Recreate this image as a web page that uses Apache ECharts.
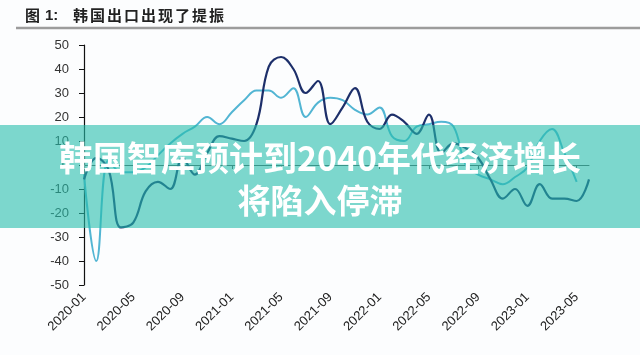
<!DOCTYPE html>
<html><head><meta charset="utf-8">
<script src="https://cdn.jsdelivr.net/npm/echarts@6/dist/echarts.min.js"></script>
<style>html,body{margin:0;padding:0;background:#fff}#c{width:640px;height:355px}</style>
</head><body><div id="c"></div>
<script>
const categories = [
 '2020-01','2020-02','2020-03','2020-04','2020-05','2020-06','2020-07','2020-08','2020-09','2020-10','2020-11','2020-12',
 '2021-01','2021-02','2021-03','2021-04','2021-05','2021-06','2021-07','2021-08','2021-09','2021-10','2021-11','2021-12',
 '2022-01','2022-02','2022-03','2022-04','2022-05','2022-06','2022-07','2022-08','2022-09','2022-10','2022-11','2022-12',
 '2023-01','2023-02','2023-03','2023-04','2023-05','2023-06'];
const seriesDark = [-6, 3, -2, -26, -24, -11, -7, -10, 3, -4, 5, 12,
 11, 10, 17, 41, 45, 40, 30, 35, 17, 24, 32, 18,
 15, 21, 18, 13, 21, 5, 9, 7, 3, -6, -14, -10,
 -17, -8, -14, -14, -15, -6];
const seriesLight = [-4, -40, 2, -3, -3, -1, 4, 9, 13, 16, 20, 17,
 22, 27, 31, 31, 28, 32, 20, 26, 28, 27, 23, 21,
 24, 12, 10, 16, 17, 18, 16, 0, -4, -6, -8, -5,
 -1, 10, 15, 5, -7, null];
const yTicks = {min: -50, max: 50, interval: 10};
const titleLead = ['图', '1:'];
const titleChars = ['韩','国','出','口','出','现','了','提','振'];
const bannerLines = ['韩国智库预计到2040年代经济增长', '将陷入停滞'];

const chart = echarts.init(document.getElementById('c'), null, {renderer: 'canvas'});
const graphics = [];
graphics.push({type:'text', left: 25, top: 8, z: 10, style:{text: titleLead[0], fontSize: 15, fontWeight: 'bold', fontFamily: 'Noto Sans CJK SC', fill: '#222'}});
graphics.push({type:'text', left: 45, top: 8, z: 10, style:{text: titleLead[1], fontSize: 15, fontWeight: 'bold', fontFamily: 'Liberation Sans', fill: '#222'}});
titleChars.forEach((ch, k) => {
  graphics.push({type:'text', left: 73 + 17 * k, top: 8, z: 10, style:{text: ch, fontSize: 15, fontWeight: 'bold', fontFamily: 'Noto Sans CJK SC', fill: '#222'}});
});
graphics.push({type:'line', z: 10, shape:{x1: 16, y1: 28, x2: 640, y2: 28}, style:{stroke:'#9c9c9c', lineWidth: 2.5}});
graphics.push({type:'rect', z: 100, shape:{x: 0, y: 125, width: 640, height: 103}, style:{fill:'rgba(38,190,172,0.6)'}});
graphics.push({type:'text', z: 101, x: 320, y: 158, style:{text: bannerLines[0], align:'center', verticalAlign:'middle', fontSize: 34, fontWeight: 'bold', fontFamily: 'Noto Sans CJK SC', fill:'#fff', shadowColor:'rgba(0,0,0,0.25)', shadowBlur: 2}});
graphics.push({type:'text', z: 101, x: 320, y: 200, style:{text: bannerLines[1], align:'center', verticalAlign:'middle', fontSize: 33, fontWeight: 'bold', fontFamily: 'Noto Sans CJK SC', fill:'#fff', shadowColor:'rgba(0,0,0,0.25)', shadowBlur: 2}});

chart.setOption({
  backgroundColor: '#fcfdfe',
  animation: false,
  grid: {left: 84, right: 51, top: 45, bottom: 70},
  xAxis: [
    {type:'category', data: categories, boundaryGap: false, position:'bottom',
     axisLine:{show:false, onZero:false}, axisTick:{show:false}, splitLine:{show:false},
     axisLabel:{interval: 3, rotate: 45, margin: 10, fontSize: 13, color:'#222', fontFamily:'Liberation Sans'}},
    {type:'category', data: categories, boundaryGap: false, position:'bottom',
     axisLine:{show:true, onZero:true, lineStyle:{color:'#555', width:1}},
     axisTick:{show:true, interval: 3, length: 4, lineStyle:{color:'#555'}},
     axisLabel:{show:false}, splitLine:{show:false}}
  ],
  yAxis: {type:'value', min: yTicks.min, max: yTicks.max, interval: yTicks.interval,
    axisLine:{show:true, lineStyle:{color:'#111', width:1.2}},
    axisTick:{show:true, length:5, lineStyle:{color:'#111'}},
    splitLine:{show:false},
    axisLabel:{fontSize: 13, color:'#333', margin: 15, fontFamily:'Liberation Sans'}},
  series: [
    {type:'line', data: seriesLight, xAxisIndex: 0, showSymbol:false, smooth: 0.4,
     lineStyle:{color:'#52b5d3', width: 2}, z: 3},
    {type:'line', data: seriesDark, xAxisIndex: 0, showSymbol:false, smooth: 0.4,
     lineStyle:{color:'#1d2f6a', width: 2.2}, z: 4}
  ],
  graphic: graphics
});
</script></body></html>
